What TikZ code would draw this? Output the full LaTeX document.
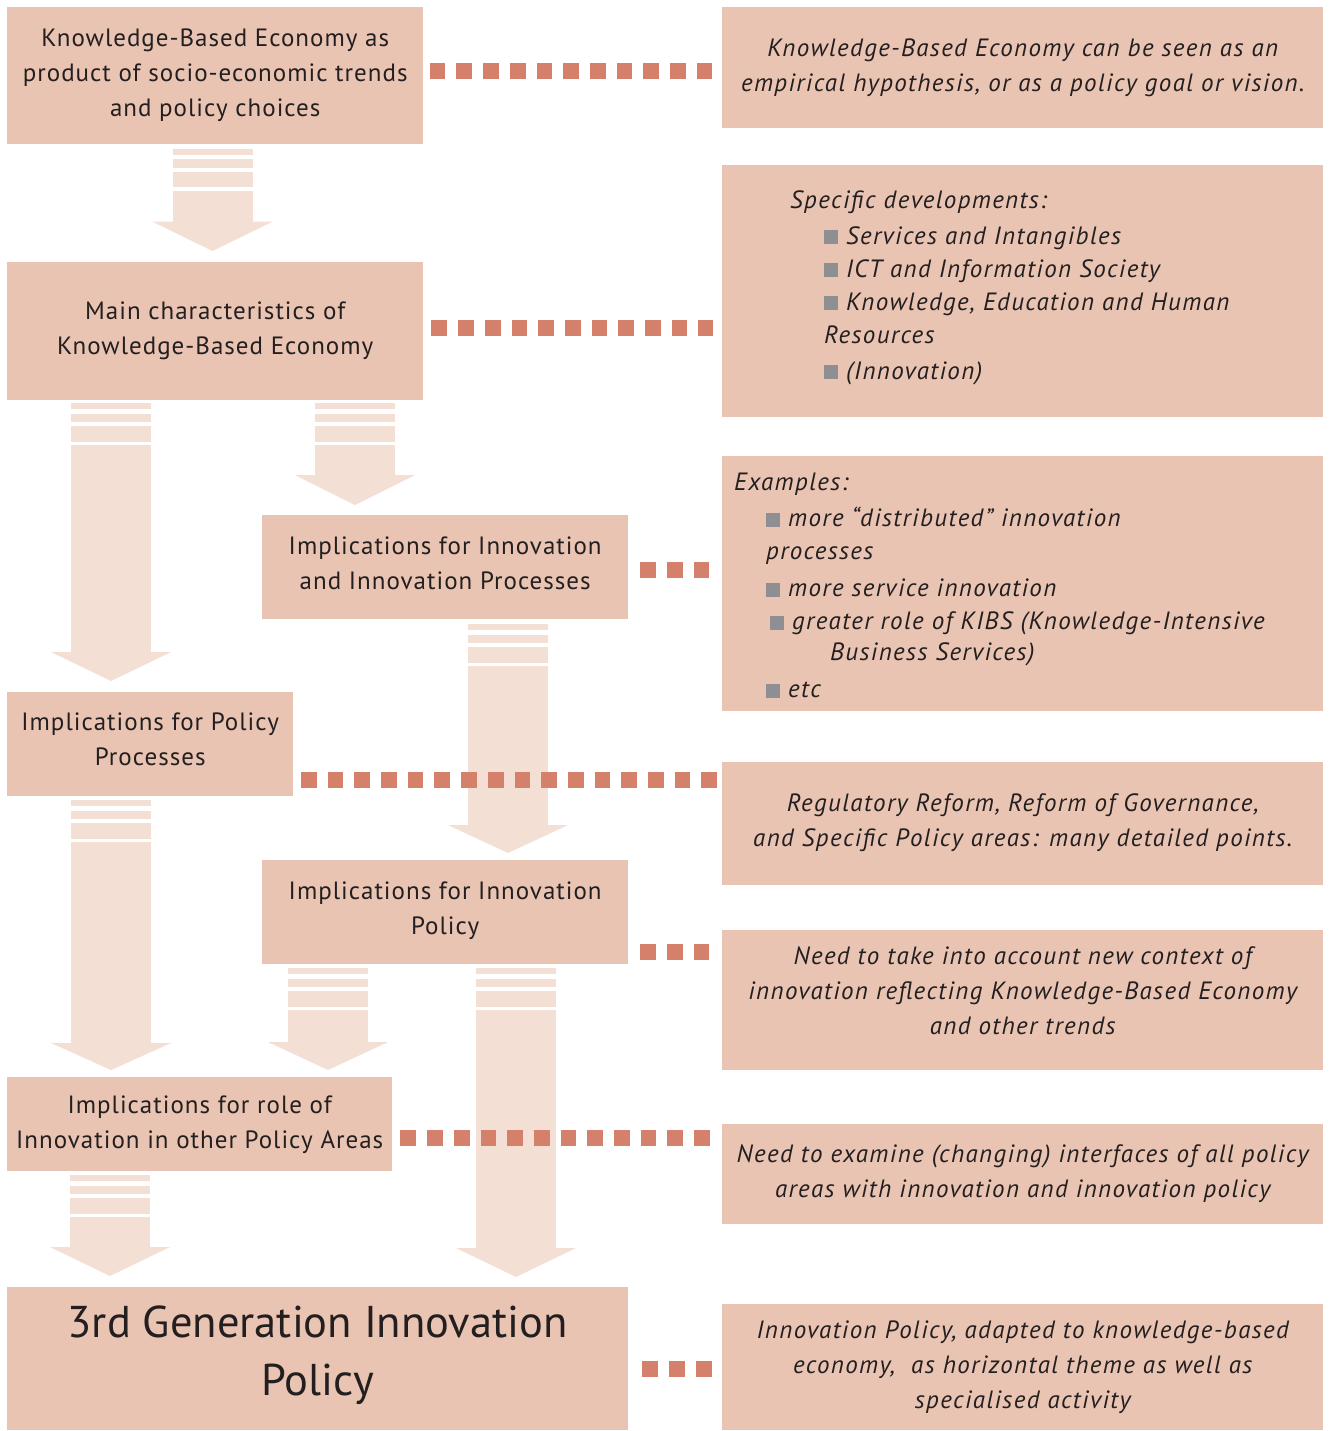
\documentclass[tikz,border=0pt]{standalone}
\usepackage{fontspec}
\setmainfont{PT Sans}[LetterSpace=4, ItalicFeatures={LetterSpace=5.5}]
\newfontfamily\bigfam{PT Sans}
\usetikzlibrary{calc}
\definecolor{boxfill}{HTML}{EAC4B2}
\definecolor{arrowfill}{HTML}{F4DFD4}
\definecolor{dotcol}{HTML}{D4806A}
\definecolor{bulletgray}{HTML}{8F8F93}
\definecolor{inkcol}{HTML}{231F20}
\newcommand\normfont{\fontsize{25}{35}\selectfont}
\newcommand\listfont{\fontsize{25}{33}\selectfont\itshape}
\newcommand\bigfont{\bigfam\fontsize{44.5}{58}\selectfont}
\newcommand\bul{{\color{bulletgray}\rule{14pt}{14pt}}\hspace{8pt}}
% extra depth on a last line lifts centred text by half of it
\newcommand\lift[1]{\rule[-#1]{0pt}{#1}}
% #1 x centre, #2 top, #3 head start, #4 tip
\newcommand\flowarrow[4]{%
  \fill[arrowfill] (#1-40,#2) rectangle (#1+40,#2+6);
  \fill[arrowfill] (#1-40,#2+10.5) rectangle (#1+40,#2+19);
  \fill[arrowfill] (#1-40,#2+23) rectangle (#1+40,#2+38.5);
  \fill[arrowfill] (#1-40,#2+42) rectangle (#1+40,#3);
  \fill[arrowfill] (#1-60,#3) -- (#1+60,#3) -- (#1,#4) -- cycle;
}
\begin{document}
\begin{tikzpicture}[x=1pt,y=-1pt,
  box/.style={fill=boxfill, anchor=north west, inner sep=0pt, align=center, font=\normfont, text=inkcol},
  rbox/.style={box, font=\normfont\itshape, minimum width=601pt},
  listtext/.style={anchor=north west, inner sep=0pt, align=left, font=\listfont, text=inkcol},
  dotline/.style={draw=dotcol, line width=15.5pt, dash pattern=on 15.7pt off 11pt}]
\useasboundingbox[fill=white] (0,0) rectangle (1329,1431);

% arrows
\flowarrow{212.5}{149}{221.7}{251}
\flowarrow{111}{403}{652}{681}
\flowarrow{355}{403}{475}{505}
\flowarrow{508}{624}{825}{853}
\flowarrow{111}{800}{1043}{1070}
\flowarrow{328}{968}{1042}{1070}
\flowarrow{516}{968}{1248}{1277}
\flowarrow{110}{1175}{1247}{1276}

% left boxes
\node[box, minimum width=416pt, minimum height=137pt] (b1) at (7,7)
  {Knowledge-Based Economy as\\product of socio-economic trends\\and policy choices};
\node[box, minimum width=416pt, minimum height=138pt] (b2) at (7,262)
  {Main characteristics of\\Knowledge-Based Economy\lift{6pt}};
\node[box, minimum width=366pt, minimum height=104pt] (b3) at (262,515)
  {Implications for Innovation\\and Innovation Processes\lift{8pt}};
\node[box, minimum width=286pt, minimum height=104pt] (b4) at (7,692)
  {Implications for Policy\\Processes\lift{10pt}};
\node[box, minimum width=366pt, minimum height=104pt] (b5) at (262,860)
  {Implications for Innovation\\Policy\lift{8pt}};
\node[box, minimum width=385pt, minimum height=94pt] (b6) at (7,1077)
  {Implications for role of\\Innovation in other Policy Areas\lift{4pt}};
\node[box, font=\bigfont, minimum width=621pt, minimum height=143pt] (b7) at (7,1287)
  {3rd Generation Innovation\\Policy\lift{16pt}};

% right boxes
\node[rbox, minimum height=121pt] (r1) at (722,7)
  {Knowledge-Based Economy can be seen as an\\empirical hypothesis, or as a policy goal or vision.};
\node[rbox, minimum height=252pt] (r2) at (722,165) {};
\node[listtext] (r2t) at (790,190)
  {Specific developments:\\[3pt]
   \hspace*{34pt}\bul Services and Intangibles\\
   \hspace*{34pt}\bul ICT and Information Society\\
   \hspace*{34pt}\bul Knowledge, Education and Human\\
   \hspace*{34pt}Resources\\[3pt]
   \hspace*{34pt}\bul (Innovation)};
\node[rbox, minimum height=255pt] (r3) at (722,456) {};
\node[listtext] (r3t) at (734,473)
  {Examples:\\[3pt]
   \hspace*{32pt}\bul more “distributed” innovation\\
   \hspace*{32pt}processes\\[4pt]
   \hspace*{32pt}\bul more service innovation\\
   \hspace*{36pt}\bul greater role of KIBS (Knowledge-Intensive\\[-2pt]
   \hspace*{96pt}Business Services)\\[4pt]
   \hspace*{32pt}\bul etc};
\node[rbox, minimum height=123pt] (r4) at (722,762)
  {Regulatory Reform, Reform of Governance,\\and Specific Policy areas: many detailed points.\lift{8pt}};
\node[rbox, minimum height=140pt] (r5) at (722,930)
  {Need to take into account new context of\\innovation reflecting Knowledge-Based Economy\\and other trends\lift{20pt}};
\node[rbox, minimum height=100pt] (r6) at (722,1124)
  {Need to examine (changing) interfaces of all policy\\areas with innovation and innovation policy\lift{6pt}};
\node[rbox, minimum height=126pt] (r7) at (722,1304)
  {Innovation Policy, adapted to knowledge-based\\economy,\ \ as horizontal theme as well as\\specialised activity};

% connector levels
\coordinate (y1) at (0,71);
\coordinate (y2) at (0,328);
\coordinate (y3) at (0,570);
\coordinate (y4) at (0,780);
\coordinate (y5) at (0,952);
\coordinate (y6) at (0,1138);
\coordinate (y7) at (0,1369);

\draw[dotline, shorten <=6.3pt, shorten >=10pt] (b1.east |- y1) -- (r1.west |- y1);
\draw[dotline, shorten <=8pt, shorten >=9pt] (b2.east |- y2) -- (r2.west |- y2);
\draw[dotline, shorten <=12pt, shorten >=13pt] (b3.east |- y3) -- (r3.west |- y3);
\draw[dotline, shorten <=7.5pt, shorten >=5.5pt] (b4.east |- y4) -- (r4.west |- y4);
\draw[dotline, shorten <=12pt, shorten >=13pt] (b5.east |- y5) -- (r5.west |- y5);
\draw[dotline, shorten <=8pt, shorten >=11pt] (b6.east |- y6) -- (r6.west |- y6);
\draw[dotline, shorten <=14pt, shorten >=10pt] (b7.east |- y7) -- (r7.west |- y7);
\end{tikzpicture}
\end{document}
